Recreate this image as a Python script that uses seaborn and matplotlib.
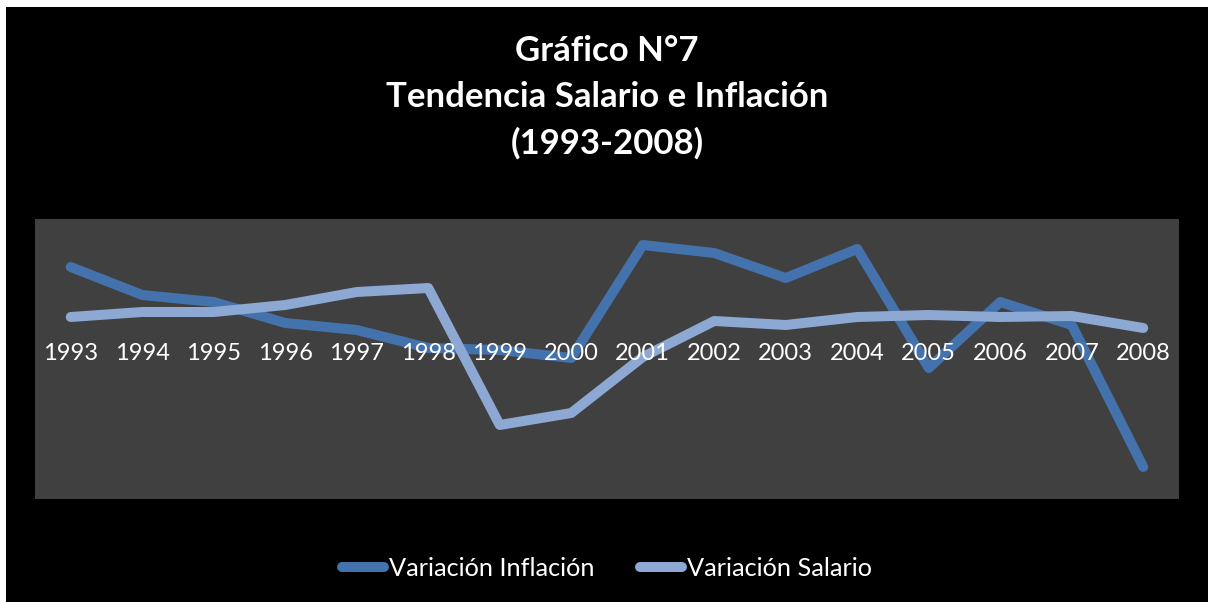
import pandas as pd
import matplotlib
matplotlib.use("Agg")
import matplotlib.pyplot as plt
from matplotlib.patches import Rectangle
import seaborn as sns

# Values
years = list(range(1993, 2009))
inflacion = [3.6, 2.2, 1.85, 0.8, 0.45, -0.45, -0.55, -0.95, 4.7, 4.3, 3.05, 4.5, -1.45, 1.85, 0.7, -6.4]
salario = [1.1, 1.35, 1.35, 1.7, 2.35, 2.55, -4.3, -3.7, -0.9, 0.9, 0.7, 1.1, 1.2, 1.1, 1.15, 0.55]
series_names = ["Variación Inflación", "Variación Salario"]
colors = ["#4472AC", "#8DA8D3"]

df = pd.concat([
    pd.DataFrame({"year": years, "valor": inflacion, "serie": series_names[0]}),
    pd.DataFrame({"year": years, "valor": salario, "serie": series_names[1]}),
])

sns.set_style("dark")
plt.rcParams["font.family"] = ["Lato", "DejaVu Sans"]

fig = plt.figure(figsize=(12.08, 6.02), dpi=100, facecolor="white")
# black chart area with a thin white margin on left/top
fig.patches.append(Rectangle((6 / 1208, 0), 1, 1 - 7 / 602, transform=fig.transFigure,
                             facecolor="black", edgecolor="none", zorder=-10))

ax = fig.add_axes([35 / 1208, 103 / 602, 1144 / 1208, 280 / 602])
ax.set_facecolor("#404040")

sns.lineplot(data=df, x="year", y="valor", hue="serie", palette=colors,
             linewidth=7.2, ax=ax, legend=False, sort=False)
for ln in ax.get_lines():
    ln.set_solid_capstyle("round")
    ln.set_solid_joinstyle("round")

# category axis sits at y = 0, axis line itself hidden, labels drawn over the lines
for s in ax.spines.values():
    s.set_visible(False)
ax.spines["bottom"].set_position(("data", 0))
ax.set_axisbelow(False)
ax.xaxis.set_zorder(5)

ax.set_xlim(1992.5, 2008.5)
ax.set_ylim(-8, 6)
ax.set_xticks(years)
ax.set_xticklabels([str(y) for y in years])
ax.tick_params(axis="x", length=0, pad=3, labelcolor="white", labelsize=17)
ax.set_yticks([])
ax.grid(False)
ax.set_xlabel("")
ax.set_ylabel("")

fig.text(0.5025, 1 - 35 / 602, "Gráfico N°7\nTendencia Salario e Inflación\n(1993-2008)",
         ha="center", va="top", color="white", fontsize=25, fontweight="bold",
         linespacing=1.54, transform=fig.transFigure)

handles = ax.get_lines()[:2]
leg = fig.legend(handles, series_names, loc="center", bbox_to_anchor=(607 / 1208, 1 - 568 / 602),
                 ncol=2, frameon=False, fontsize=18.2, handlelength=1.65,
                 handletextpad=0.2, columnspacing=1.8)
for t in leg.get_texts():
    t.set_color("white")

fig.savefig("out.png", dpi=100, facecolor=fig.get_facecolor())
